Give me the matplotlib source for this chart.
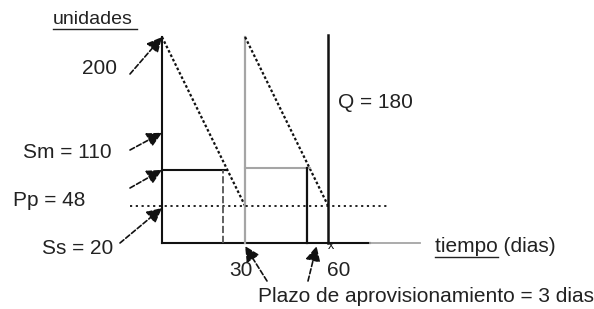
import matplotlib
matplotlib.use("Agg")
import matplotlib.pyplot as plt
from matplotlib.lines import Line2D
from matplotlib.transforms import IdentityTransform

# ---- data (diagram values) ----
cycle_days = [0, 30, 60]          # replenishment instants
stock_max = 200                   # peak stock drawn
low_level = 36                    # dotted level reached at end of each cycle
rect_level = 71                   # solid horizontal level (order point drawn)
lead_marks = [22, 52.3]           # vertical lines marking lead time
label_values = {"200": 200, "Sm = 110": 107, "Pp = 48": 71, "Ss = 20": 34}
x_ticks = [30, 60]

PX_X, PX_Y = 2.77, 1.03   # pixels per day / per unit
OX, OY = 162, 243         # origin in image pixels (from top)
W, H = 594, 309

plt.rcParams['font.family'] = ['Liberation Sans', 'DejaVu Sans']
fig = plt.figure(figsize=(W / 100, H / 100), dpi=100)
ax = fig.add_axes([0, 0, 1, 1])
ax.axis('off')
ax.set_xlim(-OX / PX_X, (W - OX) / PX_X)
ax.set_ylim((OY - H) / PX_Y, OY / PX_Y)

dark = '#111111'
gray = '#a5a5a5'
dot = (0, (1.2, 1.0))

# axes
ax.plot([0, 0], [0, stock_max], color=dark, lw=1.5)
ax.plot([0, 75], [0, 0], color=dark, lw=1.5)
ax.plot([75, 93], [0, 0], color=gray, lw=1.3)

# sawtooth
slope = (stock_max - low_level) / 30
ax.plot([cycle_days[0], cycle_days[1]], [stock_max, low_level], color=dark, lw=1.6, ls=dot)
ax.plot([cycle_days[1], cycle_days[1]], [0, stock_max], color=gray, lw=1.6)
ax.plot([cycle_days[1], cycle_days[2]], [stock_max, low_level], color=dark, lw=1.6, ls=dot)
ax.plot([cycle_days[2], cycle_days[2]], [0, stock_max + 2], color=dark, lw=1.8)

# dotted level
ax.plot([-11.5, 82], [low_level, low_level], color=dark, lw=1.3, ls=(0, (1.2, 2.0)))

# rectangles (lead time)
cross1 = (stock_max - rect_level) / slope
ax.plot([0, cross1], [rect_level, rect_level], color=dark, lw=1.5)
ax.plot([lead_marks[0], lead_marks[0]], [0, rect_level], color='#555555', lw=1.3, ls=(0, (4, 1.5)))
ax.plot([cycle_days[1], cycle_days[1] + cross1], [rect_level + 2, rect_level + 2], color=gray, lw=1.5)
ax.plot([lead_marks[1], lead_marks[1]], [0, rect_level + 2], color=dark, lw=1.6)

ax.text(cycle_days[2] + 1, -3, 'x', fontsize=9, ha='center', va='center', color=dark)


def fp(px, py):
    return (px, H - py)


fs = 15
txt = dict(xycoords='figure pixels', fontsize=fs, color='#222222', va='center')
ax.annotate('unidades', xy=fp(53, 19), ha='left', fontsize=14, xycoords='figure pixels',
            color='#222222', va='center')
fig.add_artist(Line2D([53, 137], [H - 29, H - 29], color='#222222', lw=1,
                      transform=IdentityTransform()))
ax.annotate('tiempo (dias)', xy=fp(435, 246), ha='left', **txt)
fig.add_artist(Line2D([435, 498], [H - 257, H - 257], color='#222222', lw=1,
                      transform=IdentityTransform()))
ax.annotate('Q = 180', xy=fp(338, 102), ha='left', **txt)
ax.annotate('Plazo de aprovisionamiento = 3 dias', xy=fp(258, 296), ha='left', **txt)
ax.annotate(str(x_ticks[0]), xy=fp(229, 270), ha='left', **txt)
ax.annotate(str(x_ticks[1]), xy=fp(327, 271), ha='left', **txt)

aprops = dict(arrowstyle='-|>,head_length=0.9,head_width=0.45', color=dark, lw=1.2,
              ls=(0, (3, 1.5)), shrinkA=0, shrinkB=0)
label_pos = {"200": (82, 68), "Sm = 110": (23, 153), "Pp = 48": (13, 201), "Ss = 20": (42, 248)}
tail_pos = {"200": (130, 74), "Sm = 110": (130, 150), "Pp = 48": (130, 188), "Ss = 20": (120, 243)}
for lab, val in label_values.items():
    ax.annotate(lab, xy=fp(*label_pos[lab]), ha='left', **txt)
    ax.annotate('', xy=(0, val), xycoords='data', xytext=fp(*tail_pos[lab]),
                textcoords='figure pixels', arrowprops=aprops)

ax.annotate('', xy=(x_ticks[0], -3), xycoords='data', xytext=fp(267, 281),
            textcoords='figure pixels', arrowprops=aprops)
ax.annotate('', xy=(lead_marks[1] + 3.5, -3), xycoords='data', xytext=fp(308, 281),
            textcoords='figure pixels', arrowprops=aprops)

fig.savefig('out.png', dpi=100, facecolor='white')
